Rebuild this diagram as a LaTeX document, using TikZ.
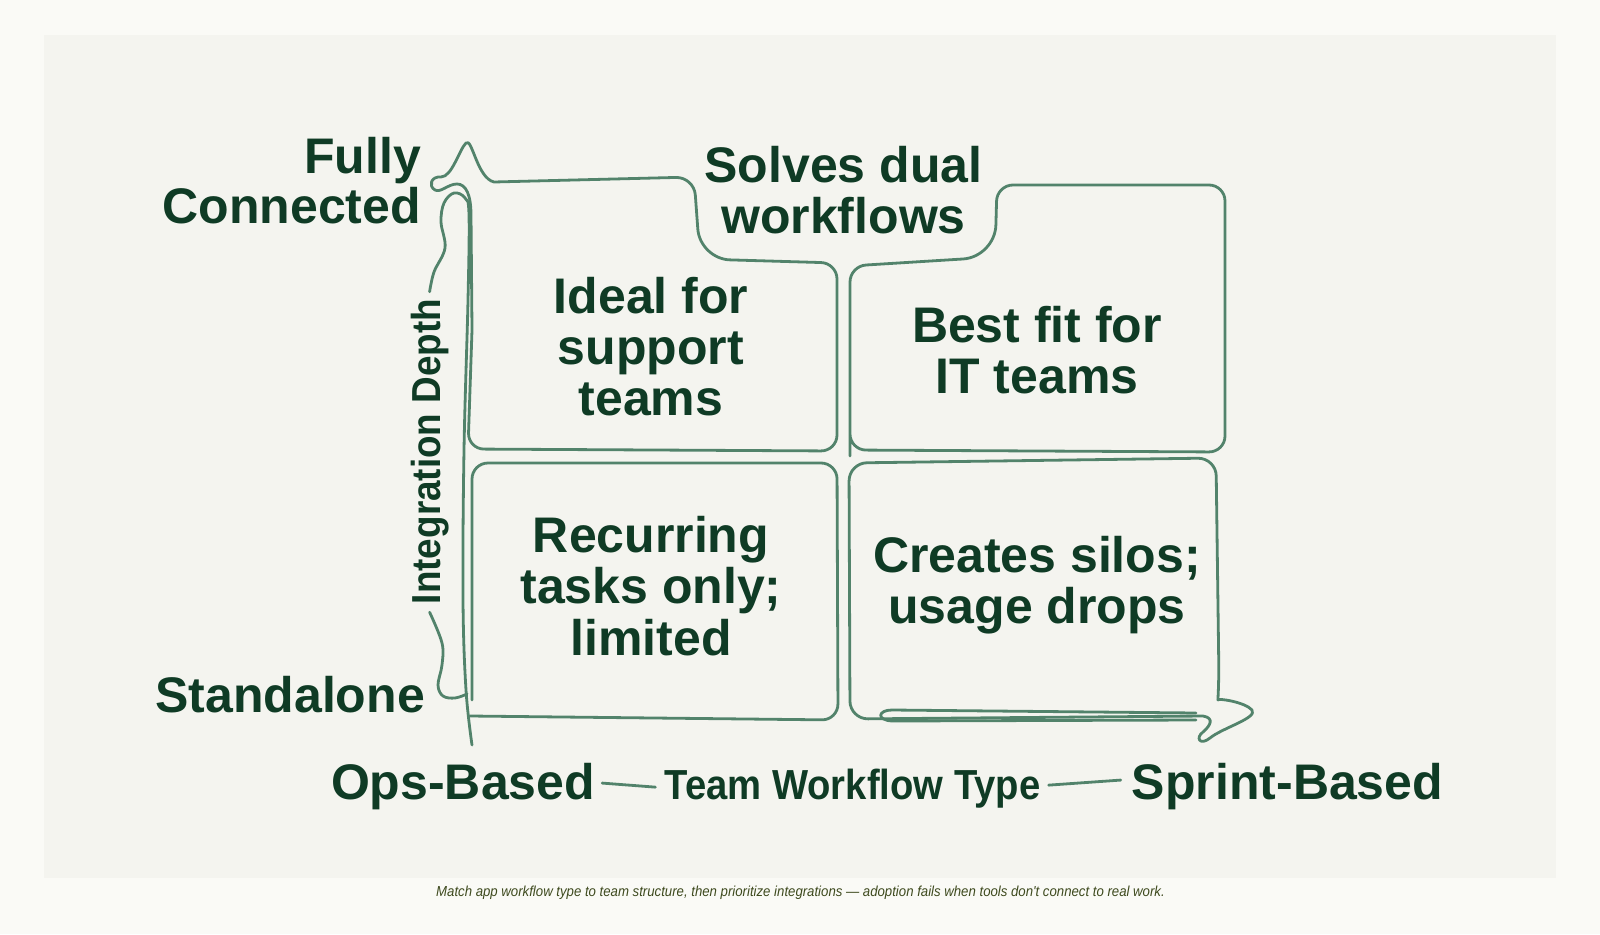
\documentclass[tikz,border=0pt]{standalone}
\usepackage{fontspec}
\setmainfont{Liberation Sans}
\newfontfamily\medfont[FakeStretch=0.91]{Liberation Sans}
\newfontfamily\capfont[FakeStretch=0.91]{Liberation Sans}
\definecolor{bgout}{HTML}{FAFAF6}
\definecolor{bgpanel}{HTML}{F4F4EF}
\definecolor{ink}{HTML}{0F3B25}
\definecolor{stroke}{HTML}{52836B}
\definecolor{captc}{HTML}{3E4A1E}
\begin{document}
\begin{tikzpicture}[x=1pt,y=-1pt,
  ln/.style={draw=stroke, line width=2.8pt, line cap=round, line join=round},
  big/.style={font=\fontsize{50}{51}\selectfont\bfseries, text=ink, inner sep=0pt},
  mid/.style={font=\medfont\fontsize{42}{44}\selectfont\bfseries, text=ink, inner sep=0pt}]
\useasboundingbox (0,0) rectangle (1600,934);
\fill[bgout] (0,0) rectangle (1600,934);
\fill[bgpanel] (44,35) rectangle (1556,878);

% axis labels
\node[big, anchor=base east] (fully) at (421,173) {Fully};
\node[big, anchor=base east] (connected) at (421,223) {Connected};
\node[big, anchor=base east] (standalone) at (425,712) {Standalone};
\node[big, anchor=base] (ops) at (463,799) {Ops-Based};
\node[mid, anchor=base] (team) at (852.5,799) {Team Workflow Type};
\node[big, anchor=base] (sprint) at (1287.5,799) {Sprint-Based};
\node[mid, font=\medfont\fontsize{40.5}{42}\selectfont\bfseries, rotate=90, anchor=base] (idp) at (440,451.5) {Integration Depth};

% quadrant texts
\node[big, anchor=base] (solvesA) at (843.5,182) {Solves dual};
\node[big, anchor=base] (solvesB) at (843.5,233) {workflows};
\node[big, anchor=base] (idealA) at (651,313) {Ideal for};
\node[big, anchor=base] (idealB) at (651,364) {support};
\node[big, anchor=base] (idealC) at (651,415) {teams};
\node[big, anchor=base] (bestA) at (1037,342) {Best fit for};
\node[big, anchor=base] (bestB) at (1037,393) {IT teams};
\node[big, anchor=base] (recA) at (651,552) {Recurring};
\node[big, anchor=base] (recB) at (651,603) {tasks only;};
\node[big, anchor=base] (recC) at (651,655) {limited};
\node[big, anchor=base] (silA) at (1037,572) {Creates silos;};
\node[big, anchor=base] (silB) at (1037,623) {usage drops};

% caption
\node[font=\capfont\itshape\fontsize{14.5}{16}\selectfont, text=captc, anchor=base] (caption) at (800.5,896)
  {Match app workflow type to team structure, then prioritize integrations — adoption fails when tools don't connect to real work.};

% top-left box with spike and notch
\draw[ln] (472,330) -- (471,215)
  .. controls (471,195) and (466,184) .. (457,184)
  .. controls (448,184) and (441,193) .. (435,190)
  .. controls (428,186) and (431,176) .. (441,177)
  .. controls (452,177) and (459,150) .. (466,143)
  .. controls (472,137) and (477,178) .. (494,182)
  [rounded corners=18pt] -- (694,177)
  [rounded corners=30pt] -- (700,259)
  [rounded corners=16pt] -- (837,263) -- (837,451) -- (468,449) -- (472,330);

% top-right box with notch
\draw[ln, rounded corners=16pt] (850,440) -- (850,266)
  [rounded corners=32pt] -- (995,257)
  [rounded corners=16pt] -- (997,185) -- (1225,185) -- (1225,452) -- (850,450) -- cycle;

% bottom-left box
\draw[ln, rounded corners=16pt] (470,716) -- (838,720) -- (837,463) -- (472,463) -- (472,700);

% bottom-right box with squiggle
\draw[ln] (1203,716) [rounded corners=18pt] -- (850,719) -- (849,463) -- (1216,458) -- (1219,682)
  [sharp corners] .. controls (1218,698) and (1245,702) .. (1252,710)
  .. controls (1258,718) and (1222,728) .. (1210,738)
  .. controls (1200,746) and (1195,738) .. (1203,732)
  .. controls (1210,726) and (1215,718) .. (1203,716);
\draw[ln] (1196,713) -- (892,710) .. controls (878,710) and (876,720) .. (892,721) -- (1196,720);

% integration depth axis with leaders
\coordinate (idtop) at ([yshift=7pt]idp.east);
\coordinate (idbot) at ([yshift=-8pt]idp.west);
\draw[ln] plot[smooth, tension=0.6] coordinates {(idtop) (434,272) (445,248) (441,222) (444,203) (454,193) (465,198) (469,215) (468,300) (464,450) (463,600) (466,690) (472,745)};
\draw[ln] plot[smooth, tension=0.6] coordinates {(idbot) (442,643) (442,665) (438,685) (443,696) (455,698) (467,694)};

% workflow axis connectors
\draw[ln] ([xshift=7pt,yshift=3pt]ops.east) -- ([xshift=-9pt,yshift=1pt]team.west);
\draw[ln] ([xshift=8pt,yshift=3pt]team.east) -- ([xshift=-11pt,yshift=6pt]sprint.west);
\end{tikzpicture}
\end{document}
